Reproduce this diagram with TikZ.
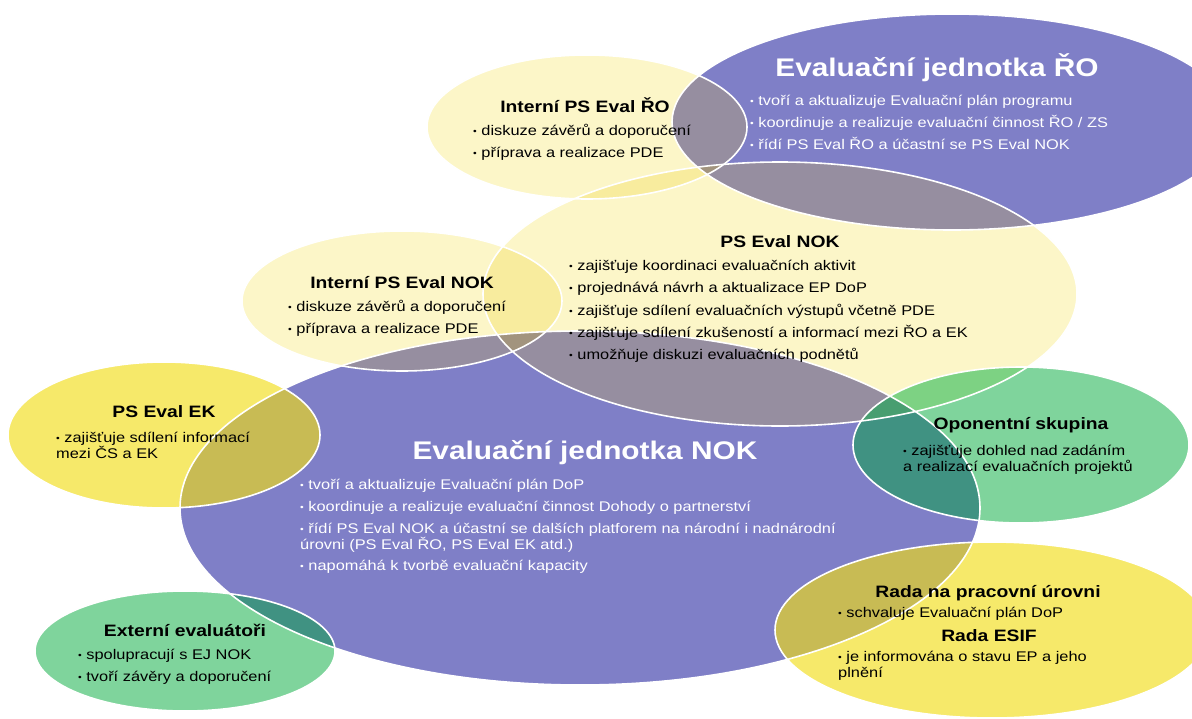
\documentclass[tikz,border=0pt]{standalone}
\usepackage{fontspec}
\setmainfont{Liberation Sans}[FakeStretch=1.17]

\definecolor{ejblue}{RGB}{127,127,199}
\definecolor{paleyel}{RGB}{252,246,200}
\definecolor{deepyel}{RGB}{248,236,158}
\definecolor{gryel}{RGB}{150,142,160}
\definecolor{brownyel}{RGB}{162,148,126}
\definecolor{yel}{RGB}{246,233,106}
\definecolor{olive}{RGB}{200,187,84}
\definecolor{grn}{RGB}{127,212,156}
\definecolor{teal}{RGB}{64,146,130}
\definecolor{yelgrn}{RGB}{125,210,131}
\definecolor{darkgrn}{RGB}{72,158,112}

% the ellipses (x to the right, y down, 1pt = 1px)
\def\Ejro{(952,122) ellipse [x radius=280, y radius=108]}
\def\Psro{(587,127) ellipse [x radius=160, y radius=72]}
\def\Psnok{(780,294) ellipse [x radius=297, y radius=132]}
\def\Intnok{(402,301) ellipse [x radius=160, y radius=70]}
\def\Ejnok{(580,508) ellipse [x radius=400, y radius=177]}
\def\Psek{(164,435) ellipse [x radius=156, y radius=73]}
\def\Opon{(1021,445) ellipse [x radius=168, y radius=78]}
\def\Extev{(185,651) ellipse [x radius=150, y radius=60]}
\def\Rada{(992,630) ellipse [x radius=217, y radius=88]}

\newcommand{\bul}{{\fontsize{9}{9}\selectfont\raisebox{1pt}{•}}~}
\newcommand{\both}[3]{\begin{scope}\clip #1; \fill[#3] #2; \end{scope}}
\newcommand{\three}[4]{\begin{scope}\clip #1; \clip #2; \fill[#4] #3; \end{scope}}

\tikzset{
  tit/.style={font=\fontsize{16.5}{19}\selectfont\bfseries, inner sep=0pt},
  big/.style={font=\fontsize{25.5}{30}\selectfont\bfseries, text=white, inner sep=0pt},
  lst/.style={font=\fontsize{14}{22}\selectfont, align=left, anchor=north west, inner sep=0pt},
  rim/.style={draw=white, line width=1.6pt}
}

\begin{document}
\begin{tikzpicture}[x=1pt,y=-1pt]
\useasboundingbox (0,0) rectangle (1192,718);
\clip (0,0) rectangle (1192,718);

% plain fills
\fill[ejblue] \Ejro;
\fill[paleyel] \Psro;
\fill[paleyel] \Psnok;
\fill[paleyel] \Intnok;
\fill[ejblue] \Ejnok;
\fill[yel] \Psek;
\fill[grn] \Opon;
\fill[grn] \Extev;
\fill[yel] \Rada;

% overlaps
\both{\Ejro}{\Psro}{gryel}
\both{\Ejro}{\Psnok}{gryel}
\both{\Psro}{\Psnok}{deepyel}
\three{\Psro}{\Psnok}{\Ejro}{brownyel}
\both{\Intnok}{\Psnok}{deepyel}
\both{\Ejnok}{\Intnok}{gryel}
\both{\Ejnok}{\Psnok}{gryel}
\three{\Intnok}{\Psnok}{\Ejnok}{brownyel}
\both{\Ejnok}{\Psek}{olive}
\both{\Ejnok}{\Rada}{olive}
\both{\Ejnok}{\Opon}{teal}
\both{\Ejnok}{\Extev}{teal}
\both{\Psnok}{\Opon}{yelgrn}
\three{\Psnok}{\Ejnok}{\Opon}{darkgrn}

% white rims
\foreach \E in {\Ejro,\Psro,\Psnok,\Intnok,\Ejnok,\Psek,\Opon,\Extev,\Rada}
  \draw[rim] \E;

% texts
\node[big] (ejroT) at (937,68) {Evaluační jednotka ŘO};
\node[lst, text=white] (ejroL) at (750,95)
  {\bul tvoří a aktualizuje Evaluační plán programu\\
   \bul koordinuje a realizuje evaluační činnost ŘO / ZS\\
   \bul řídí PS Eval ŘO a účastní se PS Eval NOK};

\node[tit] (psroT) at (585,105) {Interní PS Eval ŘO};
\node[lst] (psroL) at (473,124)
  {\bul diskuze závěrů a doporučení\\
   \bul příprava a realizace PDE};

\node[tit] (intnokT) at (402,283) {Interní PS Eval NOK};
\node[lst] (intnokL) at (288,300)
  {\bul diskuze závěrů a doporučení\\
   \bul příprava a realizace PDE};

\node[tit] (psnokT) at (780,242) {PS Eval NOK};
\node[lst, font=\fontsize{14}{22.3}\selectfont] (psnokL) at (569,260)
  {\bul zajišťuje koordinaci evaluačních aktivit\\
   \bul projednává návrh a aktualizace EP DoP\\
   \bul zajišťuje sdílení evaluačních výstupů včetně PDE\\
   \bul zajišťuje sdílení zkušeností a informací mezi ŘO a EK\\
   \bul umožňuje diskuzi evaluačních podnětů};

\node[tit] (psekT) at (164,412) {PS Eval EK};
\node[lst, font=\fontsize{14}{16}\selectfont] (psekL) at (56,432)
  {\bul zajišťuje sdílení informací\\
   mezi ČS a EK};

\node[big] (ejnokT) at (585,453) {Evaluační jednotka NOK};
\node[lst, text=white, font=\fontsize{14}{16}\selectfont] (ejnokL) at (300,479)
  {\bul tvoří a aktualizuje Evaluační plán DoP\\[6pt]
   \bul koordinuje a realizuje evaluační činnost Dohody o partnerství\\[6pt]
   \bul řídí PS Eval NOK a účastní se dalších platforem na národní i nadnárodní\\
   úrovni (PS Eval ŘO, PS Eval EK atd.)\\[5pt]
   \bul napomáhá k tvorbě evaluační kapacity};

\node[tit] (oponT) at (1021,425) {Oponentní skupina};
\node[lst, font=\fontsize{14}{15.5}\selectfont] (oponL) at (903,445)
  {\bul zajišťuje dohled nad zadáním\\
   a realizací evaluačních projektů};

\node[tit] (extT) at (185,630) {Externí evaluátoři};
\node[lst] (extL) at (78,649)
  {\bul spolupracují s EJ NOK\\
   \bul tvoří závěry a doporučení};

\node[tit] (radaT) at (988,593) {Rada na pracovní úrovni};
\node[lst] (radaL) at (838,607) {\bul schvaluje Evaluační plán DoP};
\node[tit] (esifT) at (989,636) {Rada ESIF};
\node[lst, font=\fontsize{14}{16}\selectfont] (esifL) at (838,651)
  {\bul je informována o stavu EP a jeho\\
   plnění};
\end{tikzpicture}
\end{document}
